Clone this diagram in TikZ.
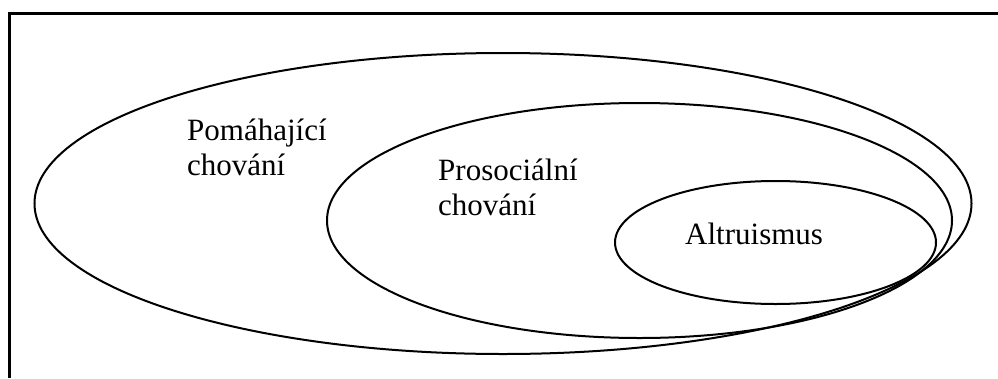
\documentclass[tikz,border=0pt]{standalone}
\usepackage{fontspec}
\setmainfont{Liberation Serif}
\usetikzlibrary{shapes.geometric}
\begin{document}
\begin{tikzpicture}[x=1pt,y=-1pt,
  ring/.style={draw=black,line width=2pt,ellipse,inner sep=0pt},
  frame/.style={draw=black,line width=2.5pt},
  lbl/.style={anchor=base west,inner sep=0pt,align=left,font=\fontsize{31}{34.5}\selectfont}]
\useasboundingbox (0,0) rectangle (998,378);
\coordinate (tl) at (9.5,13.5);
\coordinate (tr) at (998,13.5);
\coordinate (bl) at (9.5,378);
\draw[frame] (tr) -- (tl) -- (bl);
\node[ring,minimum width=937pt,minimum height=301pt] (outer) at (503,203.5) {};
\node[ring,minimum width=625pt,minimum height=235pt] (middle) at (639.5,220.5) {};
\node[ring,minimum width=321pt,minimum height=123pt] (inner) at (775.5,242.5) {};
\node[lbl] (pom) at (187,175) {Pomáhající\\chování};
\node[lbl] (pro) at (438,215) {Prosociální\\chování};
\node[lbl] (alt) at (685,244) {Altruismus};
\end{tikzpicture}
\end{document}
